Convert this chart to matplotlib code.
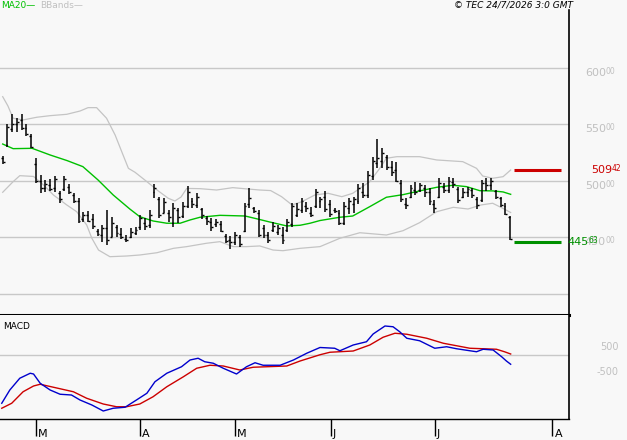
import matplotlib
matplotlib.use("Agg")
import matplotlib.pyplot as plt
import matplotlib.transforms as mtransforms

# daily OHLC bars (index = trading day, 0 .. 107)
highs = [522.4, 550.1, 559.0, 556.0, 559.0, 550.1, 541.3, 520.6, 505.3, 500.9,
         501.5, 504.7, 491.2, 504.7, 497.1, 489.1, 484.7, 472.9, 473.5, 470.5,
         457.5, 461.1, 474.0, 468.4, 461.1, 458.1, 452.2, 458.1, 459.6, 469.9,
         467.6, 474.3, 497.1, 486.1, 484.7, 474.3, 480.2, 476.4, 481.7, 495.9,
         484.7, 489.1, 476.4, 469.3, 467.0, 466.1, 464.6, 452.8, 451.6, 455.2,
         452.2, 480.2, 493.5, 477.3, 474.3, 461.1, 455.2, 463.4, 461.1, 459.6,
         466.4, 480.2, 480.2, 484.7, 481.1, 477.3, 492.9, 486.1, 491.2, 483.2,
         475.8, 474.3, 481.7, 485.3, 486.1, 497.1, 497.9, 508.8, 521.5, 537.2,
         529.5, 523.0, 517.7, 516.5, 500.9, 484.7, 496.5, 499.4, 497.9, 496.5,
         493.5, 483.2, 502.4, 497.9, 503.5, 502.4, 495.0, 493.5, 495.0, 494.1,
         486.1, 500.9, 502.4, 502.4, 492.0, 486.1, 480.2, 469.3]
lows = [514.7, 530.4, 543.7, 543.7, 545.1, 540.1, 528.9, 497.9, 489.1, 490.6,
        491.2, 490.6, 480.2, 491.2, 488.2, 480.2, 462.5, 464.0, 463.4, 457.5,
        451.6, 446.3, 443.4, 450.7, 450.7, 448.7, 446.3, 449.3, 452.2, 456.6,
        456.6, 458.1, 484.7, 467.6, 471.4, 464.0, 459.6, 462.5, 467.0, 475.8,
        476.4, 476.4, 466.4, 461.1, 456.0, 459.6, 454.6, 444.8, 439.5, 443.4,
        441.9, 454.6, 476.4, 471.4, 450.7, 449.3, 444.8, 455.2, 452.2, 444.0,
        455.2, 459.6, 468.4, 471.4, 472.9, 468.4, 475.8, 476.4, 472.9, 468.4,
        471.4, 461.1, 461.1, 470.5, 471.4, 479.4, 484.7, 484.7, 500.9, 511.8,
        511.8, 509.7, 504.7, 498.8, 481.1, 475.2, 484.7, 487.6, 490.6, 486.1,
        478.8, 471.4, 484.7, 489.1, 489.1, 494.1, 480.2, 484.7, 486.1, 485.3,
        475.2, 481.1, 491.2, 492.0, 484.1, 477.3, 469.9, 447.5]
opens = [520, 532, 546, 550, 554, 547, 540, 515, 500, 494,
         496, 494, 489, 493, 495, 488, 482, 466, 470, 466,
         456, 452, 458, 450, 459, 453, 449, 450, 454, 459,
         463, 461, 490, 484, 472, 472, 463, 474, 469, 478,
         482, 479, 475, 467, 464, 462, 462, 451, 448, 446,
         450, 456, 480, 476, 472, 458, 452, 457, 455, 452,
         457, 462, 470, 474, 478, 472, 478, 482, 486, 480,
         474, 472, 463, 476, 480, 482, 490, 488, 504, 516,
         518, 521, 512, 510, 498, 480, 486, 492, 492, 494,
         490, 480, 486, 495, 492, 499, 493, 486, 490, 492,
         484, 483, 498, 496, 491, 485, 478, 468]
closes = [517, 548, 550, 552, 547, 542, 530, 500, 494, 497,
          493, 502, 484, 502, 490, 482, 465, 470, 465, 460,
          453, 458, 448, 463, 454, 450, 448, 455, 457, 467,
          460, 470, 494, 470, 481, 468, 476, 468, 478, 490,
          480, 486, 470, 465, 459, 464, 456, 447, 446, 452,
          444, 478, 485, 473, 452, 452, 448, 460, 458, 448,
          464, 478, 475, 482, 476, 470, 490, 484, 475, 471,
          473, 463, 478, 482, 484, 494, 488, 505, 518, 520,
          525, 512, 508, 500, 484, 479, 494, 490, 496, 490,
          482, 476, 498, 492, 500, 497, 483, 490, 493, 488,
          479, 498, 496, 500, 486, 479, 471, 449]

# 20-day moving average (sampled)
ma_x = [0, 2.2, 6.2, 10, 13.6, 16.9, 20.1, 23.3, 26.8, 28.9, 31.7, 34.6, 37.4,
        39.5, 41.6, 45.8, 51.1, 53.5, 56.3, 59.9, 62.7, 64.8, 66.9, 71.1, 73.8,
        77.4, 80.9, 84.4, 87.9, 91.5, 94.9, 97.8, 100.6, 103.4, 105.5, 107.1]
ma_y = [532.7, 528.6, 528.9, 523.0, 518.0, 512.7, 500.9, 487.6, 475.2, 468.4,
        464.6, 462.6, 462.6, 465.5, 467.9, 469.6, 469.0, 466.6, 463.7, 460.2,
        460.8, 462.6, 465.0, 467.9, 469.0, 477.3, 485.6, 487.9, 491.2, 494.4,
        496.2, 495.0, 491.4, 491.2, 490.3, 488.2]

# Bollinger bands (sampled)
up_x = [0, 1.1, 2.2, 4.3, 7.2, 10, 13.5, 16.3, 18, 19.8, 21.9, 23.7, 25.1,
        26.5, 27.9, 30.4, 32.8, 34.9, 36.3, 37.6, 38.8, 41.6, 45.1, 48.5, 51.7,
        54.2, 56.5, 58.8, 61.0, 63.1, 65.8, 68.6, 71.5, 73.8, 77.4, 79.5, 80.9,
        83.1, 87.9, 91.5, 97.0, 99.9, 101.2, 103.3, 105.5, 107.1]
up_y = [574.6, 566.4, 555.5, 554.0, 556.4, 557.8, 559.0, 561.9, 564.9, 564.9,
        555.5, 540.7, 525.9, 511.2, 507.7, 499.4, 491.2, 484.7, 482.3, 485.8,
        493.4, 493.2, 492.0, 494.1, 492.9, 492.0, 491.5, 486.1, 478.8, 481.7,
        487.6, 489.1, 486.1, 489.1, 499.4, 511.2, 520.1, 521.5, 521.5, 518.6,
        517.1, 511.2, 504.4, 502.4, 503.8, 509.7]
lo_x = [0, 2.2, 3.6, 6.5, 8.6, 10.7, 13.5, 15.6, 17.7, 18.8, 20.2, 22.6, 26.1,
        28.9, 32.5, 36, 38.8, 43, 45.8, 48.6, 51.4, 54.2, 57, 59.1, 62.7, 66.9,
        71.1, 75.3, 80.9, 84.4, 87.9, 91.5, 95, 98.1, 100.9, 103.3, 105.4, 107.1]
lo_y = [490.0, 499.4, 504.7, 504.0, 496.5, 487.6, 478.8, 472.8, 461.1, 449.3,
        438.9, 433.0, 433.6, 434.5, 436.5, 440.4, 441.9, 444.9, 446.3, 441.9,
        441.9, 442.5, 438.9, 438.3, 440.4, 441.9, 449.3, 454.2, 452.2, 456.0,
        463.1, 472.8, 476.7, 475.2, 478.8, 480.3, 475.9, 472.1]

# MACD and signal
macd_x = [-0.2, 1.5, 3.6, 5.8, 6.5, 7.9, 10.0, 12.1, 14.5, 16.3, 18.8, 21.2,
          23.3, 25.8, 28.2, 30.4, 32.1, 34.6, 37.7, 39.5, 41.2, 42.6, 44.4,
          46.5, 49.3, 51.4, 53.2, 54.9, 58.5, 61.3, 64.1, 66.9, 70.0, 71.1,
          73.9, 76.7, 78.1, 80.6, 82.3, 83.7, 85.2, 87.9, 91.1, 93.6, 95.7,
          99.9, 101.3, 103.4, 105.2, 106.2, 107.1]
macd_y = [-19.5, -14.2, -9.5, -7.5, -7.8, -11.5, -14.2, -15.9, -16.2, -18.2,
          -20.2, -22.6, -21.5, -21.1, -18.2, -15.5, -10.9, -7.5, -4.9, -2.2,
          -1.5, -2.9, -3.5, -5.5, -7.8, -4.9, -3.3, -4.3, -4.3, -2.2, 0.5, 2.8,
          2.5, 1.5, 3.8, 5.1, 8.2, 11.4, 11.1, 9.1, 6.5, 5.5, 2.5, 3.1, 2.3,
          1.1, 2.1, 1.8, -0.9, -2.6, -3.9]
sig_x = [-0.2, 1.9, 4.3, 6.5, 7.9, 10.7, 14.9, 17.7, 21.2, 24.0, 26.1, 28.9,
         31.7, 34.6, 38.1, 40.9, 43.7, 46.5, 50.0, 52.8, 55.6, 59.9, 62.7,
         66.9, 69.0, 73.9, 77.4, 80.2, 82.7, 85.2, 89.4, 92.9, 98.5, 104.1,
         105.8, 107.1]
sig_y = [-21.5, -19.5, -14.9, -12.6, -11.9, -13.1, -14.9, -17.5, -19.8, -20.9,
         -20.9, -19.8, -16.9, -12.9, -8.9, -5.5, -4.3, -4.6, -6.2, -5.1, -4.9,
         -4.6, -2.6, -0.1, 0.9, 1.4, 3.8, 6.9, 8.5, 8.1, 6.5, 4.5, 2.5, 2.1,
         1.1, 0.2]

price_ticks = [450, 500, 550, 600]
grid_levels = [400, 450, 500, 550, 600]
resistance = 509.42
support = 445.63
month_pos = [7.0, 28.9, 49.0, 69.2, 91.1, 115.9]
month_lab = ["M", "A", "M", "J", "J", "A"]

BG = "#f8f8f8"
GRID = "#c8c8c8"
W, H = 627, 440

fig = plt.figure(figsize=(6.27, 4.40), dpi=100, facecolor=BG)
ax1 = fig.add_axes([0, (H - 315) / H, 569 / W, 305 / H], facecolor=BG)
ax2 = fig.add_axes([0, (H - 419) / H, 569 / W, 104 / H], facecolor=BG)

xmin, xmax = -0.57, 119.4
for ax in (ax1, ax2):
    ax.set_xlim(xmin, xmax)
    ax.spines["left"].set_visible(False)
    ax.spines["top"].set_visible(False)
    ax.spines["right"].set_linewidth(1.2)
    ax.set_yticks([])
ax1.set_ylim(381.4, 651.3)
ax2.set_ylim(-25.8, 15.8)
ax1.spines["bottom"].set_linewidth(2.2)
ax2.spines["bottom"].set_linewidth(1.0)
ax1.set_xticks([])

# price panel
for g in grid_levels:
    ax1.axhline(g, color=GRID, lw=1.0, zorder=1)
ax1.plot(up_x, up_y, color="#c4c4c4", lw=0.9, zorder=2)
ax1.plot(lo_x, lo_y, color="#c4c4c4", lw=0.9, zorder=2)
ax1.plot(ma_x, ma_y, color="#00c000", lw=1.0, zorder=3)

idx = list(range(len(highs)))
ax1.vlines(idx, lows, highs, color="black", lw=1.1, zorder=4)
ax1.hlines(opens, [i - 0.4 for i in idx], idx, color="black", lw=1.0, zorder=4)
ax1.hlines(closes, idx, [i + 0.4 for i in idx], color="black", lw=1.0, zorder=4)

ax1.hlines(resistance, 107.8, 117.7, color="#cc0000", lw=2.2, zorder=4)
ax1.hlines(support, 107.8, 117.7, color="#009000", lw=2.2, zorder=4)

tr1 = mtransforms.blended_transform_factory(fig.transFigure, ax1.transData)
for p in price_ticks:
    ax1.text(606 / W, p, f"{p}", transform=tr1, ha="right", va="top",
             fontsize=8, color="#c0c0c0", clip_on=False)
    ax1.text(606 / W, p + 1.2, "00", transform=tr1, ha="left", va="top",
             fontsize=5.5, color="#c0c0c0", clip_on=False)

def level_label(val, x_right, color):
    main, dec = f"{val:.2f}".split(".")
    ax1.text(x_right / W, val, main, transform=tr1, ha="right", va="center",
             fontsize=8, color=color, clip_on=False)
    ax1.text(x_right / W, val + 1.8, dec, transform=tr1, ha="left",
             va="center", fontsize=5.5, color=color, clip_on=False)

level_label(resistance, 612, "#cc0000")
level_label(support, 588.5, "#009000")

# MACD panel
ax2.axhline(0, color=GRID, lw=1.0, zorder=1)
ax2.plot(sig_x, sig_y, color="#cc0000", lw=1.0, zorder=3)
ax2.plot(macd_x, macd_y, color="#0000cc", lw=1.0, zorder=3)
ax2.text(3 / 569, 0.93, "MACD", transform=ax2.transAxes, fontsize=6.5,
         va="top", ha="left", color="black")
tr2 = mtransforms.blended_transform_factory(fig.transFigure, ax2.transData)
ax2.text(619 / W, 5, "500", transform=tr2, ha="right", va="top", fontsize=7,
         color="#c0c0c0", clip_on=False)
ax2.text(619 / W, -5, "-500", transform=tr2, ha="right", va="top", fontsize=7,
         color="#c0c0c0", clip_on=False)

# month ticks
ax2.set_xticks(month_pos)
ax2.set_xticklabels([])
ax2.tick_params(axis="x", direction="out", length=12, width=1.0, color="black")
trm = mtransforms.blended_transform_factory(ax2.transData, fig.transFigure)
for pos, lab in zip(month_pos, month_lab):
    ax2.text(pos + 0.45, (H - 429) / H, lab, transform=trm, ha="left",
             va="top", fontsize=8, color="black", clip_on=False)

# header
fig.text(1 / W, 1 - 1 / H, "MA20\u2014", color="#00c000", fontsize=6.5,
         ha="left", va="top")
fig.text(40 / W, 1 - 1 / H, "BBands\u2014", color="#c0c0c0", fontsize=6.5,
         ha="left", va="top")
fig.text(573 / W, 1 - 1 / H, "\u00a9 TEC 24/7/2026 3:0 GMT", color="black",
         fontsize=6.5, style="italic", ha="right", va="top")

fig.savefig("out.png", dpi=100, facecolor=BG)
